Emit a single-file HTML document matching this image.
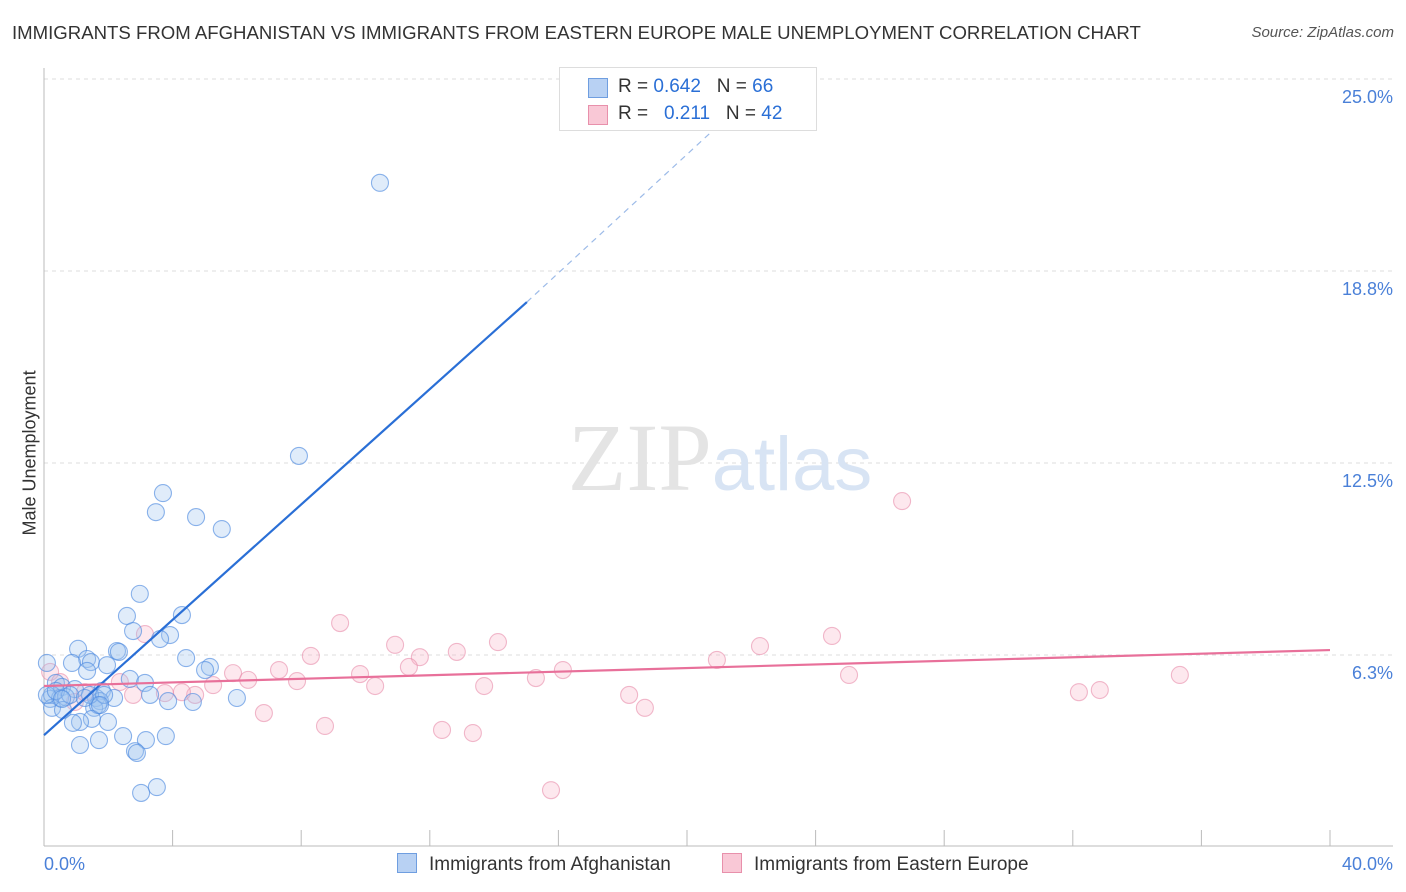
<!DOCTYPE html>
<html><head><meta charset="utf-8">
<style>
body{margin:0;background:#fff;font-family:"Liberation Sans",sans-serif;}
#c{position:relative;width:1406px;height:892px;overflow:hidden;}
.t{position:absolute;white-space:nowrap;}
</style></head>
<body><div id="c">
<div class="t" style="left:12px;top:22px;font-size:18.6px;color:#333;">IMMIGRANTS FROM AFGHANISTAN VS IMMIGRANTS FROM EASTERN EUROPE MALE UNEMPLOYMENT CORRELATION CHART</div>
<div class="t" style="right:12px;top:24px;font-size:15px;color:#555;font-style:italic;">Source: ZipAtlas.com</div>
<div class="t" style="left:-50px;top:445px;font-size:18px;color:#333;transform:rotate(-90deg);width:160px;text-align:center;">Male Unemployment</div>
<svg id="s" width="1406" height="892" style="position:absolute;left:0;top:0"></svg>
</div>
<script>
const yTicks=[6.25,12.5,18.75,25];
const yTickLabels=["6.3%","12.5%","18.8%","25.0%"];
const xAxisLabels=["0.0%","40.0%"];
const blueX=[10.45,7.93,3.70,3.48,4.73,5.53,2.98,2.58,4.29,2.77,3.92,3.61,1.06,2.27,2.33,1.34,1.46,0.87,4.42,5.16,5.01,1.96,0.09,2.67,3.14,1.34,0.37,0.56,1.80,0.96,3.30,6.00,3.86,4.63,2.18,0.19,0.25,0.50,0.68,1.62,1.74,1.56,1.68,0.25,0.59,1.99,1.49,1.12,0.90,2.46,1.71,1.12,3.17,3.79,2.83,2.89,3.51,3.02,0.09,0.37,0.81,1.43,1.87,1.27,1.74,0.56];
const blueY=[21.62,12.73,11.52,10.90,10.74,10.35,8.24,7.52,7.55,7.03,6.90,6.77,6.45,6.38,6.35,6.12,6.02,5.99,6.15,5.86,5.76,5.92,5.99,5.47,5.34,5.73,5.34,5.21,5.08,5.14,4.95,4.85,4.75,4.72,4.85,4.82,4.95,4.85,4.88,4.85,4.75,4.53,4.62,4.53,4.46,4.07,4.17,4.07,4.04,3.61,3.48,3.32,3.48,3.61,3.12,3.06,1.95,1.76,4.95,5.08,4.95,4.95,4.95,4.85,4.62,4.82];
const pinkX=[26.69,24.51,22.27,20.93,9.21,10.92,14.12,12.84,11.69,8.30,7.31,11.35,16.14,9.83,5.88,6.35,7.87,10.30,13.69,15.30,5.26,4.70,2.77,3.76,4.29,18.20,18.69,25.04,35.33,32.84,32.19,6.84,8.74,12.38,13.34,15.77,3.14,0.19,0.50,0.96,1.27,2.36];
const pinkY=[11.26,6.87,6.54,6.09,7.29,6.58,6.67,6.35,6.18,6.22,5.76,5.86,5.76,5.63,5.66,5.44,5.40,5.24,5.24,5.50,5.27,4.95,4.95,5.01,5.04,4.95,4.53,5.60,5.60,5.11,5.04,4.36,3.94,3.81,3.71,1.85,6.93,5.70,5.37,4.72,5.04,5.37];
const blueLine=[0,3.64,15.02,17.74];
const blueDash=[15.02,17.74,21.33,23.83];
const pinkLine=[0,5.24,40,6.41];
const ns="http://www.w3.org/2000/svg",s=document.getElementById('s');
const X=v=>44+v/40*1286, Y=v=>847-v/25*768;
function el(t,a){const e=document.createElementNS(ns,t);for(const k in a)e.setAttribute(k,a[k]);s.appendChild(e);return e;}
yTicks.forEach((v,i)=>{
const g=el('line',{x1:44,x2:1393,y1:Y(v),y2:Y(v),stroke:'#ddd','stroke-dasharray':'4,4'});


const t=el('text',{x:1393,y:Y(v)+24,'text-anchor':'end','font-size':18,fill:'#4a80d8','font-family':'Liberation Sans'});t.textContent=yTickLabels[i];


});
const ax=el('line',{x1:44,x2:44,y1:68,y2:846,stroke:'#bbb'});


const bx=el('line',{x1:44,x2:1393,y1:846,y2:846,stroke:'#bbb'});


for(let i=1;i<=10;i++){const tk=el('line',{x1:X(i*4),x2:X(i*4),y1:830,y2:846,stroke:'#bbb'});

}
xAxisLabels.forEach((l,i)=>{const t=el('text',{x:i?1393:44,y:870,'text-anchor':i?'end':'start','font-size':18,fill:'#4a80d8','font-family':'Liberation Sans'});t.textContent=l;

});
const wm=el('text',{x:720,y:490,'text-anchor':'middle','font-size':96,'font-family':'Liberation Serif',fill:'#e4e4e4'});wm.innerHTML='ZIP<tspan fill="#d8e4f4" font-family="Liberation Sans" font-size="76">atlas</tspan>';


function pts(xs,ys,f,st,nm){xs.forEach((x,i)=>{const c=el('circle',{cx:X(x),cy:Y(ys[i]),r:8.5,fill:f,stroke:st,'stroke-width':1.1});

});}
pts(pinkX,pinkY,'rgba(248,180,200,0.3)','rgba(232,140,170,0.6)','point-eastern-europe');
pts(blueX,blueY,'rgba(160,195,240,0.32)','rgba(80,140,225,0.65)','point-afghanistan');
const l1=el('line',{x1:X(blueLine[0]),y1:Y(blueLine[1]),x2:X(blueLine[2]),y2:Y(blueLine[3]),stroke:'#2a6fd6','stroke-width':2.2});


const l2=el('line',{x1:X(blueDash[0]),y1:Y(blueDash[1]),x2:X(blueDash[2]),y2:Y(blueDash[3]),stroke:'#9dbbe8','stroke-width':1.2,'stroke-dasharray':'6,5'});


const l3=el('line',{x1:X(pinkLine[0]),y1:Y(pinkLine[1]),x2:X(pinkLine[2]),y2:Y(pinkLine[3]),stroke:'#e8709a','stroke-width':2.2});


</script>
<div class="t" style="left:559px;top:67px;width:256px;height:62px;border:1px solid #ddd;background:#fff;font-size:19px;color:#333;">
<div style="position:absolute;left:28px;top:10px;width:18px;height:18px;background:#b8d1f3;border:1px solid #6f9ee0;"></div>
<div style="position:absolute;left:58px;top:8px;">R = <span style="color:#2a6fd6">0.642</span>&nbsp;&nbsp;&nbsp;N = <span style="color:#2a6fd6">66</span></div>
<div style="position:absolute;left:28px;top:37px;width:18px;height:18px;background:#f9c8d6;border:1px solid #e890ab;"></div>
<div style="position:absolute;left:58px;top:35px;">R = &nbsp;&nbsp;<span style="color:#2a6fd6">0.211</span>&nbsp;&nbsp;&nbsp;N = <span style="color:#2a6fd6">42</span></div>
</div>
<div class="t" style="left:397px;top:853px;font-size:19px;color:#333;"><span style="display:inline-block;width:18px;height:18px;background:#b8d1f3;border:1px solid #6f9ee0;vertical-align:-3px;margin-right:12px;"></span>Immigrants from Afghanistan</div>
<div class="t" style="left:722px;top:853px;font-size:19px;color:#333;"><span style="display:inline-block;width:18px;height:18px;background:#f9c8d6;border:1px solid #e890ab;vertical-align:-3px;margin-right:12px;"></span>Immigrants from Eastern Europe</div>
</body></html>
